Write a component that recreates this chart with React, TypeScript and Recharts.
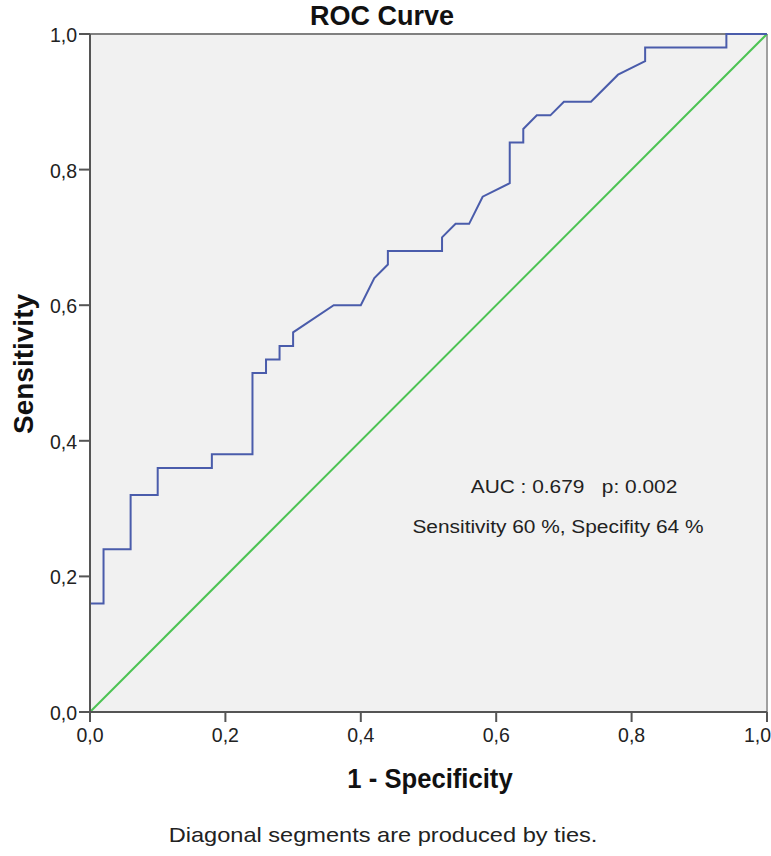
import React from 'react';
import {
  LineChart,
  Line,
  XAxis,
  YAxis,
  CartesianGrid,
  ReferenceLine,
} from 'recharts';

// ROC curve points (1 - specificity, sensitivity)
const rocFpr = [
  0, 0, 0.02, 0.02, 0.06, 0.06, 0.1, 0.1, 0.18, 0.18, 0.24, 0.24, 0.26, 0.26,
  0.28, 0.28, 0.3, 0.3, 0.36, 0.4, 0.42, 0.44, 0.44, 0.52, 0.52, 0.54, 0.56,
  0.58, 0.62, 0.62, 0.64, 0.64, 0.66, 0.68, 0.7, 0.74, 0.78, 0.82, 0.82, 0.94,
  0.94, 1,
];
const rocTpr = [
  0, 0.16, 0.16, 0.24, 0.24, 0.32, 0.32, 0.36, 0.36, 0.38, 0.38, 0.5, 0.5, 0.52,
  0.52, 0.54, 0.54, 0.56, 0.6, 0.6, 0.64, 0.66, 0.68, 0.68, 0.7, 0.72, 0.72,
  0.76, 0.78, 0.84, 0.84, 0.86, 0.88, 0.88, 0.9, 0.9, 0.94, 0.96, 0.98, 0.98,
  1, 1,
];

// reference diagonal
const diagX = [0, 1];
const diagY = [0, 1];

const axisTicks = [0, 0.2, 0.4, 0.6, 0.8, 1];

const title = 'ROC Curve';
const xTitle = '1 - Specificity';
const yTitle = 'Sensitivity';
const aucText = 'AUC : 0.679   p: 0.002';
const cutoffText = 'Sensitivity 60 %, Specifity 64 %';
const footnote = 'Diagonal segments are produced by ties.';

const rocData = rocFpr.map((x, i) => ({ x, y: rocTpr[i] }));
const diagData = diagX.map((x, i) => ({ x, y: diagY[i] }));

const FONT = '"Liberation Sans", Arial, sans-serif';
const fmt = (v: number) => v.toFixed(1).replace('.', ',');

const XTick = (props: any) => {
  const { x, y, payload } = props;
  const last = payload.value === 1;
  return (
    <text
      x={last ? 771 : x}
      y={y + 18}
      textAnchor={last ? 'end' : 'middle'}
      fill="#222"
      style={{ fontSize: 19.5, fontFamily: FONT }}
    >
      {fmt(payload.value)}
    </text>
  );
};

const YTick = (props: any) => {
  const { x, y, payload } = props;
  return (
    <text
      x={x}
      y={y + 8}
      textAnchor="end"
      fill="#222"
      style={{ fontSize: 19.5, fontFamily: FONT }}
    >
      {fmt(payload.value)}
    </text>
  );
};

export default function App() {
  return (
    <div
      style={{
        position: 'absolute',
        left: 0,
        top: 0,
        width: 771,
        height: 856,
        background: '#fff',
        fontFamily: FONT,
      }}
    >
      <LineChart
        width={771}
        height={856}
        margin={{ top: 34, right: 4, bottom: 0, left: 0 }}
      >
        <CartesianGrid
          fill="#f1f1f1"
          horizontal={false}
          vertical={false}
          stroke="none"
        />
        <XAxis
          dataKey="x"
          type="number"
          domain={[0, 1]}
          ticks={axisTicks}
          height={144}
          tickSize={10}
          tickMargin={2}
          axisLine={{ stroke: '#555', strokeWidth: 2 }}
          tickLine={{ stroke: '#555', strokeWidth: 2 }}
          tick={<XTick />}
          allowDuplicatedCategory={false}
        />
        <YAxis
          dataKey="y"
          type="number"
          domain={[0, 1]}
          ticks={axisTicks}
          width={90}
          tickSize={11}
          tickMargin={2}
          axisLine={{ stroke: '#555', strokeWidth: 2 }}
          tickLine={{ stroke: '#555', strokeWidth: 2 }}
          tick={<YTick />}
        />
        <ReferenceLine y={1} stroke="#808080" strokeWidth={2} />
        <ReferenceLine x={1} stroke="#a0a0a0" strokeWidth={2} />
        <Line
          data={diagData}
          dataKey="y"
          type="linear"
          stroke="#4cc353"
          strokeWidth={2}
          dot={false}
          isAnimationActive={false}
        />
        <Line
          data={rocData}
          dataKey="y"
          type="linear"
          stroke="#4a5cab"
          strokeWidth={2}
          dot={false}
          isAnimationActive={false}
        />
      </LineChart>
      <svg
        width={771}
        height={856}
        style={{ position: 'absolute', left: 0, top: 0, pointerEvents: 'none' }}
        fontFamily={FONT}
      >
        <text x={382} y={25} textAnchor="middle" fontSize={27} fontWeight="bold" fill="#111">
          {title}
        </text>
        <text
          transform="translate(430,788) scale(0.95,1)"
          textAnchor="middle"
          fontSize={27}
          fontWeight="bold"
          fill="#111"
        >
          {xTitle}
        </text>
        <text
          transform="translate(33,364) rotate(-90)"
          textAnchor="middle"
          fontSize={28}
          fontWeight="bold"
          fill="#111"
        >
          {yTitle}
        </text>
        <text transform="translate(574,493) scale(1.16,1)" textAnchor="middle" fontSize={18} fill="#222" style={{ whiteSpace: 'pre' }}>
          {aucText}
        </text>
        <text transform="translate(558,533) scale(1.16,1)" textAnchor="middle" fontSize={18} fill="#222">
          {cutoffText}
        </text>
        <text transform="translate(383,842) scale(1.18,1)" textAnchor="middle" fontSize={20} fill="#222">
          {footnote}
        </text>
      </svg>
    </div>
  );
}
